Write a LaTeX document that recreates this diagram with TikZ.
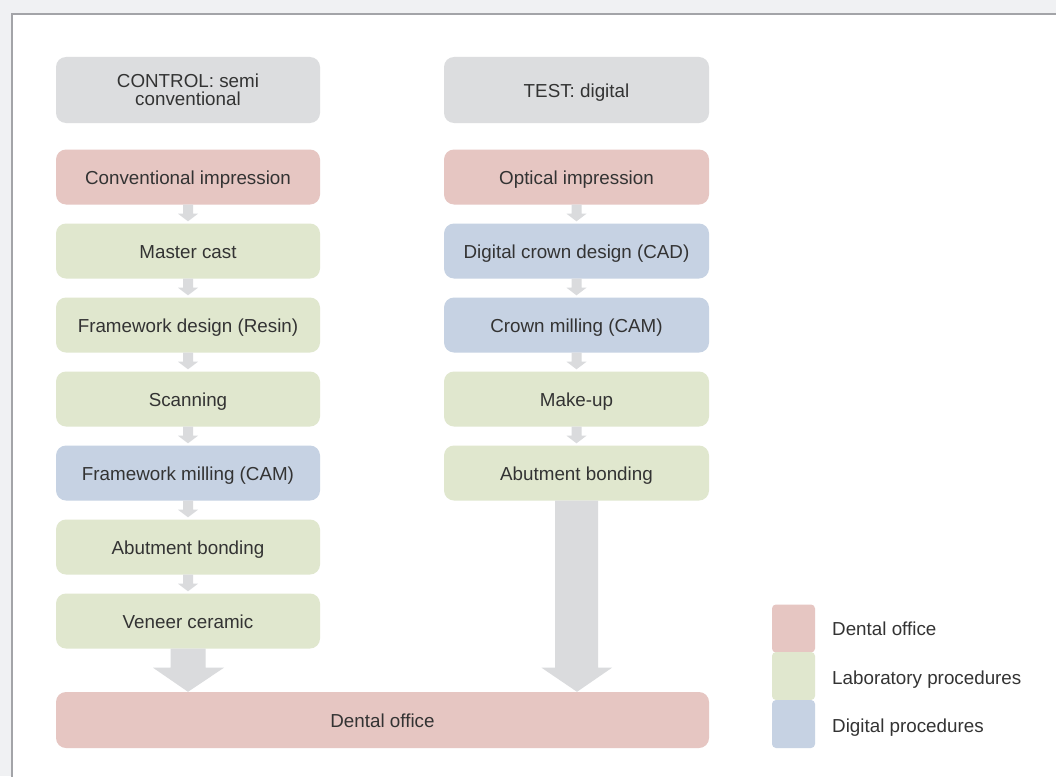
\documentclass[tikz,border=0pt]{standalone}
\usepackage{fontspec}
\setmainfont{Liberation Sans}
\usetikzlibrary{calc}
\definecolor{bgout}{HTML}{F0F1F3}
\definecolor{frameln}{HTML}{A3A4A8}
\definecolor{cgray}{HTML}{DCDDDF}
\definecolor{cpink}{HTML}{E6C6C2}
\definecolor{cgreen}{HTML}{E0E7CE}
\definecolor{cblue}{HTML}{C6D2E3}
\definecolor{txt}{HTML}{333333}
\definecolor{arrgray}{HTML}{DADBDD}
\tikzset{
  basebox/.style={rectangle, rounded corners=10pt, minimum width=264pt, minimum height=55pt,
    inner sep=0pt, text=txt, font=\fontsize{18.8}{16.5}\selectfont, align=center},
  box/.style={basebox, text height=15.5pt, text depth=0pt},
  hdr/.style={basebox, fill=cgray, minimum height=66pt},
  office/.style={box, fill=cpink},
  lab/.style={box, fill=cgreen},
  dig/.style={box, fill=cblue},
  legsq/.style={rectangle, rounded corners=4pt, minimum width=43pt, minimum height=48pt, inner sep=0pt},
  legtxt/.style={anchor=west, text=txt, font=\fontsize{18.8}{15}\selectfont, inner sep=0pt,
    text height=15.5pt, text depth=0pt},
  arr/.style={fill=arrgray}
}
\newcommand{\smallarr}[2]{%
  \fill[arr] ($(#1.south)+(-5,0)$) -- ($(#1.south)+(-5,9)$) -- ($(#1.south)+(-10,9)$)
    -- ($(#2.north)+(0,-2)$) -- ($(#1.south)+(10,9)$) -- ($(#1.south)+(5,9)$)
    -- ($(#1.south)+(5,0)$) -- cycle;}
\begin{document}
\begin{tikzpicture}[x=1pt,y=-1pt]
\useasboundingbox (0,0) rectangle (1056,776);
\fill[bgout] (0,0) rectangle (1056,776);
\fill[white] (12,14) rectangle (1060,780);
\draw[frameln, line width=1.5pt] (1060,14) -- (12,14) -- (12,780);

% headers
\node[hdr] (hc) at (188,90) {\raisebox{-2pt}{CONTROL: semi}\\[2pt]\raisebox{-2pt}{conventional}};
\node[hdr, minimum width=265pt, text height=15.5pt, text depth=0pt] (ht) at (576.5,90) {TEST: digital};

% left column
\node[office] (l1) at (188,177) {Conventional impression};
\node[lab] (l2) at (188,251) {Master cast};
\node[lab] (l3) at (188,325) {Framework design (Resin)};
\node[lab] (l4) at (188,399) {Scanning};
\node[dig] (l5) at (188,473) {Framework milling (CAM)};
\node[lab] (l6) at (188,547) {Abutment bonding};
\node[lab] (l7) at (188,621) {Veneer ceramic};

% right column
\node[office, minimum width=265pt] (r1) at (576.5,177) {Optical impression};
\node[dig, minimum width=265pt] (r2) at (576.5,251) {Digital crown design (CAD)};
\node[dig, minimum width=265pt] (r3) at (576.5,325) {Crown milling (CAM)};
\node[lab, minimum width=265pt] (r4) at (576.5,399) {Make-up};
\node[lab, minimum width=265pt] (r5) at (576.5,473) {Abutment bonding};

% bottom
\node[office, minimum width=653pt, minimum height=56pt] (dent) at (382.5,720) {Dental office};

% small arrows
\smallarr{l1}{l2}
\smallarr{l2}{l3}
\smallarr{l3}{l4}
\smallarr{l4}{l5}
\smallarr{l5}{l6}
\smallarr{l6}{l7}
\smallarr{r1}{r2}
\smallarr{r2}{r3}
\smallarr{r3}{r4}
\smallarr{r4}{r5}

% big arrows
\coordinate (ltip) at (dent.north -| l7.south);
\fill[arr] ($(l7.south)+(-17.5,0)$) -- ($(l7.south)+(-17.5,19)$) -- ($(l7.south)+(-35,19)$)
  -- (ltip) -- ($(l7.south)+(36,19)$) -- ($(l7.south)+(17.5,19)$) -- ($(l7.south)+(17.5,0)$) -- cycle;
\coordinate (rtip) at ($(dent.north -| r5.south)+(0.5,0)$);
\fill[arr] ($(r5.south)+(-21.5,0)$) -- ($(r5.south)+(-21.5,167)$) -- ($(r5.south)+(-35,167)$)
  -- (rtip) -- ($(r5.south)+(35.5,167)$) -- ($(r5.south)+(21.5,167)$) -- ($(r5.south)+(21.5,0)$) -- cycle;

% legend
\node[legsq, fill=cpink] (k1) at (793.5,628.5) {};
\node[legsq, fill=cgreen] (k2) at (793.5,676) {};
\node[legsq, fill=cblue] (k3) at (793.5,724) {};
\node[legtxt] (t1) at (832,628) {Dental office};
\node[legtxt] (t2) at (832,677) {Laboratory procedures};
\node[legtxt] (t3) at (832,725) {Digital procedures};
\end{tikzpicture}
\end{document}
